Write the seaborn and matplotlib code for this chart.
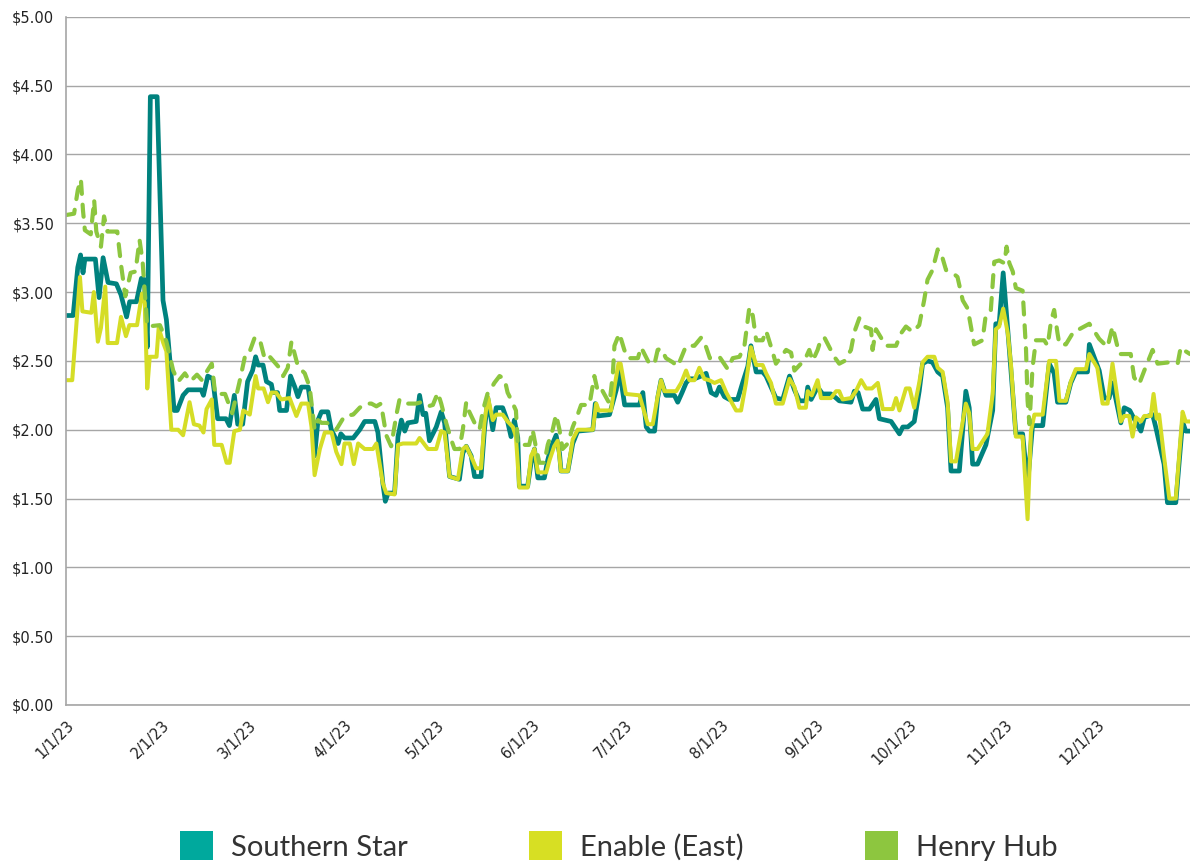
import numpy as np
import pandas as pd
import matplotlib
matplotlib.use("Agg")
import matplotlib.pyplot as plt
import seaborn as sns
from matplotlib.patches import Patch
from matplotlib.ticker import FuncFormatter

# Daily prices, as (days since 1/1/23, $/MMBtu)
ss_days = [0, 2.3, 3.8, 4.7, 5.5, 6.1, 8.2, 9.5, 10.7, 12.0, 13.6, 16.3, 17.8, 19.6, 20.6, 22.8,
           24.4, 25.4, 26.3, 27.3, 29.5, 31.4, 32.5, 34.0, 35.0, 36.0, 37.9, 39.5, 43.8, 44.5,
           45.9, 47.5, 49.1, 51.8, 52.9, 54.5, 55.6, 57.2, 58.8, 60.4, 61.4, 62.2, 63.8, 64.9,
           66.5, 67.0, 68.5, 69.2, 71.4, 72.7, 74.1, 75.1, 76.2, 78.4, 79.5, 80.5, 81.6, 82.7,
           84.8, 85.9, 88.1, 89.0, 90.2, 93.0, 95.1, 96.7, 100.0, 101.0, 102.6, 103.4, 104.3,
           106.4, 107.5, 108.6, 109.7, 110.7, 113.4, 114.5, 115.6, 116.5, 117.7, 119.9, 121.5,
           122.6, 124.2, 127.4, 128.5, 129.6, 131.2, 132.3, 134.4, 135.5, 136.6, 138.2, 139.3,
           141.4, 143.0, 144.1, 145.2, 146.3, 146.8, 149.5, 150.6, 151.7, 152.8, 154.9, 156.0,
           157.2, 158.7, 159.8, 160.3, 162.5, 164.1, 165.7, 170.6, 171.4, 172.2, 176.0, 178.2,
           179.2, 180.9, 185.7, 186.8, 187.9, 188.9, 190.6, 191.6, 192.7, 194.3, 197.0, 198.1,
           199.5, 200.8, 201.9, 203.5, 205.7, 207.3, 208.9, 210.5, 211.6, 213.2, 214.8, 217.5,
           219.1, 220.8, 221.8, 223.5, 225.6, 226.7, 228.3, 229.9, 232.1, 234.3, 235.9, 237.5,
           239.6, 240.2, 241.3, 243.4, 245.0, 247.7, 249.4, 250.4, 254.2, 255.3, 256.5, 258.0,
           260.2, 262.3, 263.4, 267.2, 269.9, 271.0, 272.6, 274.7, 276.3, 277.4, 279.0, 280.6,
           282.3, 283.9, 285.5, 286.6, 289.3, 291.4, 292.5, 293.6, 295.2, 297.9, 300.1, 301.1,
           302.2, 303.5, 305.5, 307.6, 309.8, 311.4, 313.0, 316.3, 318.4, 320.0, 321.1, 323.8,
           325.4, 327.0, 330.8, 331.4, 334.6, 336.2, 337.8, 338.9, 341.6, 342.7, 344.5, 345.9,
           348.1, 349.2, 351.9, 352.9, 355.6, 356.7, 359.4, 361.6, 362.6, 364]
ss_vals = [2.83, 2.83, 3.18, 3.27, 3.14, 3.24, 3.24, 3.24, 2.96, 3.25, 3.07, 3.06, 2.98, 2.82, 2.93, 2.93,
           3.10, 3.09, 2.60, 4.42, 4.42, 2.94, 2.80, 2.41, 2.14, 2.14, 2.25, 2.29, 2.29, 2.25,
           2.39, 2.37, 2.08, 2.08, 2.03, 2.25, 2.04, 2.04, 2.35, 2.43, 2.53, 2.47, 2.47, 2.35,
           2.33, 2.27, 2.27, 2.14, 2.14, 2.39, 2.31, 2.24, 2.31, 2.31, 2.14, 1.81, 2.07, 2.13,
           2.13, 2.00, 1.90, 1.97, 1.94, 1.94, 2.00, 2.06, 2.06, 1.98, 1.61, 1.48, 1.54,
           1.54, 1.95, 2.07, 1.99, 2.05, 2.06, 2.25, 2.11, 2.12, 1.92, 2.02, 2.13,
           2.05, 1.66, 1.64, 1.83, 1.88, 1.81, 1.66, 1.66, 2.00, 2.23, 2.00, 2.16,
           2.16, 2.06, 1.95, 2.07, 1.94, 1.59, 1.59, 1.76, 1.86, 1.65, 1.65, 1.78,
           1.88, 1.96, 1.83, 1.70, 1.70, 1.90, 1.99, 2.00, 2.19, 2.10, 2.11, 2.29,
           2.44, 2.18, 2.18, 2.27, 2.02, 1.99, 1.99, 2.23, 2.36, 2.25, 2.25, 2.20,
           2.27, 2.34, 2.37, 2.37, 2.39, 2.41, 2.27, 2.25, 2.31, 2.24, 2.22, 2.22,
           2.34, 2.46, 2.61, 2.42, 2.42, 2.39, 2.31, 2.23, 2.22, 2.39, 2.29, 2.21,
           2.21, 2.31, 2.22, 2.31, 2.26, 2.26, 2.23, 2.21, 2.20, 2.28, 2.27, 2.15,
           2.15, 2.22, 2.08, 2.06, 1.97, 2.02, 2.02, 2.06, 2.28, 2.48, 2.50, 2.49,
           2.42, 2.39, 2.16, 1.70, 1.70, 2.28, 2.16, 1.75, 1.75, 1.89, 2.14, 2.77,
           2.77, 3.14, 2.58, 1.97, 1.97, 1.60, 2.03, 2.03, 2.48, 2.41, 2.20, 2.20,
           2.34, 2.42, 2.42, 2.62, 2.43, 2.23, 2.23, 2.34, 2.05, 2.16, 2.14, 2.08,
           1.99, 2.09, 2.11, 2.02, 1.75, 1.47, 1.47, 2.06, 1.99, 1.99]

en_days = [0, 2.0, 4.5, 5.3, 8.2, 9.0, 10.3, 11.3, 12.7, 13.5, 16.5, 17.8, 19.4, 20.5, 23.0, 24.6,
           25.5, 26.3, 27.1, 29.3, 30.0, 31.5, 32.5, 34.1, 36.3, 37.9, 40.0, 41.4, 43.2, 44.5,
           45.5, 47.2, 48.0, 50.4, 52.0, 53.0, 54.5, 56.3, 57.4, 59.5, 61.4, 62.2, 64.0, 65.4,
           66.5, 68.0, 69.7, 72.4, 74.6, 76.2, 78.4, 79.5, 80.5, 82.2, 83.8, 86.0, 87.5, 89.2,
           90.2, 91.9, 93.2, 94.6, 96.7, 99.4, 100.5, 102.6, 103.7, 106.4, 107.5, 109.1, 113.4,
           114.5, 117.2, 119.9, 121.5, 122.6, 124.2, 126.9, 128.5, 129.6, 131.7, 132.8, 134.4,
           135.5, 136.6, 138.2, 139.3, 141.4, 143.0, 144.7, 145.7, 146.8, 149.5, 150.6, 151.7,
           152.8, 155.5, 156.6, 158.1, 159.2, 160.3, 162.5, 164.1, 165.7, 170.6, 171.7, 172.5,
           176.5, 177.6, 178.9, 179.6, 181.3, 185.7, 188.4, 190.0, 191.6, 192.7, 193.8, 197.6,
           199.2, 200.8, 201.9, 203.5, 205.1, 206.7, 208.3, 210.0, 212.1, 213.8, 217.0, 218.6,
           220.2, 221.8, 223.5, 225.6, 226.7, 228.3, 229.9, 232.1, 234.3, 235.9, 237.5, 239.6,
           240.2, 241.5, 243.4, 244.5, 247.7, 249.4, 250.4, 251.5, 254.2, 255.8, 257.5, 259.1,
           261.0, 262.9, 264.5, 267.7, 268.8, 269.9, 272.0, 273.2, 274.7, 276.3, 277.4, 279.0,
           281.2, 282.3, 283.9, 285.5, 286.6, 288.2, 291.4, 292.5, 293.6, 295.2, 298.4, 300.1,
           301.1, 302.2, 303.5, 305.0, 306.0, 307.6, 309.8, 311.4, 312.5, 313.6, 316.3, 318.4,
           320.6, 321.7, 323.8, 325.4, 327.0, 330.3, 331.4, 334.0, 335.7, 337.3, 338.9, 341.6,
           342.7, 344.3, 345.4, 346.5, 348.1, 349.2, 351.3, 352.2, 353.2, 354.0, 355.5, 357.3,
           359.4, 361.6, 362.6, 364]
en_vals = [2.36, 2.36, 3.11, 2.86, 2.85, 3.00, 2.64, 2.74, 3.04, 2.63, 2.63, 2.82, 2.68, 2.76, 2.76, 2.99,
           2.92, 2.30, 2.53, 2.53, 2.74, 2.63, 2.57, 2.00, 2.00, 1.96, 2.20, 2.04, 2.03, 1.98,
           2.15, 2.22, 1.89, 1.89, 1.76, 1.76, 1.99, 2.00, 2.14, 2.11, 2.39, 2.30, 2.30, 2.20,
           2.27, 2.27, 2.22, 2.23, 2.10, 2.19, 2.19, 2.02, 1.67, 1.86, 1.98, 1.98, 1.84, 1.75,
           1.90, 1.90, 1.75, 1.90, 1.86, 1.86, 1.90, 1.61, 1.54, 1.53, 1.89, 1.90, 1.90,
           1.94, 1.86, 1.86, 1.99, 1.98, 1.66, 1.64, 1.86, 1.88, 1.78, 1.72, 1.72,
           2.05, 2.24, 2.07, 2.11, 2.11, 2.06, 2.02, 1.95, 1.58, 1.58, 1.81, 1.86,
           1.69, 1.69, 1.78, 1.88, 1.92, 1.70, 1.70, 1.93, 2.00, 2.00, 2.19, 2.14,
           2.14, 2.31, 2.48, 2.48, 2.26, 2.25, 2.04, 2.04, 2.24, 2.36, 2.28, 2.28,
           2.34, 2.43, 2.36, 2.36, 2.45, 2.37, 2.36, 2.34, 2.36, 2.27, 2.14, 2.14,
           2.34, 2.60, 2.47, 2.47, 2.41, 2.34, 2.19, 2.19, 2.37, 2.31, 2.16, 2.16,
           2.28, 2.25, 2.36, 2.23, 2.23, 2.28, 2.28, 2.22, 2.23, 2.28, 2.36, 2.30,
           2.30, 2.34, 2.15, 2.15, 2.23, 2.14, 2.30, 2.30, 2.16, 2.34, 2.49, 2.53,
           2.53, 2.45, 2.42, 2.20, 1.77, 1.77, 2.19, 2.12, 1.86, 1.86, 1.97, 2.26,
           2.73, 2.75, 2.88, 2.70, 2.48, 1.95, 1.95, 1.35, 1.99, 2.11, 2.11, 2.50,
           2.50, 2.21, 2.21, 2.35, 2.44, 2.44, 2.55, 2.45, 2.19, 2.19, 2.48, 2.06,
           2.10, 2.10, 1.95, 2.09, 2.06, 2.10, 2.10, 2.26, 2.08, 2.11, 1.82, 1.50,
           1.50, 2.13, 2.06, 2.06]

hh_days = [0, 2.6, 3.8, 4.8, 5.5, 6.1, 8.0, 9.1, 9.8, 11.3, 12.3, 13.4, 16.6, 17.8, 19.2, 20.9,
           22.5, 23.8, 24.8, 26.3, 30.4, 31.5, 32.5, 34.7, 36.3, 38.5, 40.2, 42.4, 44.0, 45.5,
           47.2, 48.3, 51.5, 53.8, 56.1, 58.2, 59.5, 61.1, 62.7, 64.4, 66.0, 68.7, 70.3, 71.8,
           73.0, 75.1, 77.3, 78.9, 80.5, 81.6, 82.7, 84.5, 87.5, 90.2, 93.0, 95.1, 96.7, 98.9,
           100.5, 102.0, 103.7, 105.3, 107.0, 108.0, 109.7, 113.4, 115.0, 117.2, 118.8, 120.4,
           121.5, 123.1, 124.7, 125.8, 127.4, 128.5, 129.6, 130.6, 132.3, 133.9, 135.0, 136.6,
           137.7, 138.7, 140.4, 142.0, 143.0, 144.1, 145.7, 146.3, 150.0, 151.1, 152.2, 153.3,
           154.9, 156.0, 157.6, 158.7, 159.8, 160.8, 162.5, 164.1, 165.7, 166.8, 169.5, 171.1,
           172.2, 173.3, 176.0, 177.1, 177.6, 179.2, 180.8, 181.9, 185.2, 186.2, 188.9, 190.6,
           191.6, 192.7, 194.3, 196.5, 198.1, 200.8, 203.5, 205.7, 207.3, 208.5, 211.6, 214.3,
           215.9, 218.1, 219.7, 221.3, 222.4, 223.5, 225.6, 226.7, 228.9, 229.9, 233.2, 234.8,
           235.9, 238.0, 239.7, 240.7, 241.8, 243.4, 244.5, 245.6, 248.8, 250.4, 252.1, 254.2,
           255.3, 256.9, 258.5, 260.7, 261.2, 262.3, 265.5, 268.8, 270.4, 272.0, 274.2, 276.3,
           277.9, 279.0, 280.6, 282.3, 283.3, 285.0, 287.1, 288.7, 290.4, 292.0, 294.1, 296.8,
           297.9, 299.5, 300.6, 302.2, 303.9, 304.6, 305.5, 306.6, 307.6, 309.8, 310.9, 311.4,
           312.0, 313.0, 314.1, 316.8, 317.9, 319.0, 320.0, 321.1, 321.7, 323.8, 326.5, 328.1,
           331.4, 332.9, 334.6, 337.3, 338.9, 341.1, 344.8, 345.9, 347.5, 349.2, 351.9, 353.5,
           357.3, 360.0, 361.0, 362.6, 364]
hh_vals = [3.56, 3.57, 3.74, 3.82, 3.59, 3.45, 3.42, 3.67, 3.44, 3.33, 3.55, 3.44, 3.44, 3.20, 2.97, 3.14,
           3.15, 3.38, 3.22, 2.75, 2.76, 2.70, 2.64, 2.43, 2.35, 2.41, 2.35, 2.40, 2.36, 2.42,
           2.48, 2.26, 2.26, 2.12, 2.34, 2.56, 2.57, 2.67, 2.66, 2.51, 2.53, 2.46, 2.39, 2.45,
           2.64, 2.46, 2.41, 2.31, 2.00, 2.07, 2.05, 2.05, 2.00, 2.10, 2.11, 2.16, 2.19, 2.19,
           2.17, 2.19, 1.96, 1.88, 2.11, 2.22, 2.19, 2.19, 2.20, 2.17, 2.18, 2.27,
           2.19, 2.05, 1.93, 1.86, 1.86, 2.00, 2.20, 2.13, 2.05, 2.00, 2.14, 2.27,
           2.30, 2.34, 2.39, 2.37, 2.27, 2.22, 2.14, 1.89, 1.89, 2.00, 1.87, 1.76,
           1.76, 1.89, 2.00, 2.11, 2.00, 1.86, 1.90, 2.02, 2.11, 2.18, 2.18, 2.39,
           2.28, 2.30, 2.19, 2.41, 2.61, 2.70, 2.58, 2.52, 2.52, 2.60, 2.48, 2.48,
           2.58, 2.59, 2.52, 2.49, 2.46, 2.61, 2.61, 2.67, 2.60, 2.52, 2.53, 2.44,
           2.52, 2.53, 2.61, 2.89, 2.83, 2.65, 2.65, 2.72, 2.56, 2.48, 2.58, 2.56,
           2.43, 2.48, 2.53, 2.58, 2.50, 2.58, 2.66, 2.67, 2.53, 2.48, 2.50, 2.58,
           2.71, 2.81, 2.75, 2.73, 2.58, 2.73, 2.61, 2.61, 2.70, 2.75, 2.71, 2.76,
           2.94, 3.09, 3.16, 3.31, 3.29, 3.16, 3.14, 3.11, 2.94, 2.88, 2.62, 2.65,
           2.84, 2.87, 3.22, 3.23, 3.21, 3.33, 3.21, 3.15, 3.03, 3.01, 2.58, 2.21,
           2.04, 2.45, 2.65, 2.65, 2.61, 2.79, 2.87, 2.70, 2.62, 2.62, 2.72, 2.73,
           2.77, 2.72, 2.66, 2.60, 2.75, 2.55, 2.55, 2.38, 2.33, 2.43, 2.58, 2.48,
           2.49, 2.48, 2.60, 2.57, 2.55]

series_names = ["Southern Star", "Enable (East)", "Henry Hub"]
line_colors = ["#00827E", "#D5DD26", "#8CC63F"]
legend_colors = ["#00A99D", "#D7DF23", "#8DC63F"]

month_ticks = pd.date_range("2023-01-01", "2023-12-01", freq="MS")
month_labels = ["1/1/23", "2/1/23", "3/1/23", "4/1/23", "5/1/23", "6/1/23",
                "7/1/23", "8/1/23", "9/1/23", "10/1/23", "11/1/23", "12/1/23"]
y_ticks = np.arange(0, 5.01, 0.5)

start = pd.Timestamp("2023-01-01")


def to_frame(days, vals, name):
    return pd.DataFrame({
        "date": start + pd.to_timedelta(np.array(days), unit="D"),
        "price": vals,
        "series": name,
    })


frames = [to_frame(ss_days, ss_vals, series_names[0]),
          to_frame(en_days, en_vals, series_names[1]),
          to_frame(hh_days, hh_vals, series_names[2])]

sns.set_theme(style="white")
plt.rcParams["font.family"] = ["DejaVu Sans"]

fig = plt.figure(figsize=(11.9, 8.65), dpi=100)
ax = fig.add_axes([0.0555, 0.185, 0.9445, 0.7955])

ax.grid(axis="y", color="#A6A6A6", linewidth=1.0)
ax.set_axisbelow(True)

sns.lineplot(data=frames[0], x="date", y="price", ax=ax, color=line_colors[0],
             linewidth=3.4, estimator=None, legend=False)
sns.lineplot(data=frames[1], x="date", y="price", ax=ax, color=line_colors[1],
             linewidth=2.9, estimator=None, legend=False)
sns.lineplot(data=frames[2], x="date", y="price", ax=ax, color=line_colors[2],
             linewidth=3.0, estimator=None, legend=False,
             dashes=(2.9, 2.6), dash_capstyle="round")

ax.set_xlim(pd.Timestamp("2023-01-01"), pd.Timestamp("2023-12-31"))
ax.set_ylim(0, 5)
ax.set_yticks(y_ticks)
ax.yaxis.set_major_formatter(FuncFormatter(lambda v, _: f"${v:.2f}"))
ax.set_xticks(month_ticks)
ax.set_xticklabels(month_labels, rotation=45, ha="right", rotation_mode="anchor")
ax.set_xlabel("")
ax.set_ylabel("")

ax.tick_params(axis="both", labelsize=10.5, labelcolor="#222222", colors="#A6A6A6",
               length=5, width=1.0, direction="out")
ax.tick_params(axis="x", pad=4)
for lab in ax.get_xticklabels() + ax.get_yticklabels():
    lab.set_color("#222222")

for side in ["top", "right"]:
    ax.spines[side].set_visible(False)
for side in ["left", "bottom"]:
    ax.spines[side].set_color("#A6A6A6")
    ax.spines[side].set_linewidth(1.2)

handles = [Patch(facecolor=c, edgecolor="none", label=n) for c, n in zip(legend_colors, series_names)]
leg = fig.legend(handles=handles, loc="center", bbox_to_anchor=(0.520, 0.022), ncol=3,
                 frameon=False, handlelength=1.13, handleheight=1.13,
                 handletextpad=0.62, columnspacing=4.15,
                 prop={"family": "Lato", "weight": "normal", "size": 21})
for t in leg.get_texts():
    t.set_color("#333333")

fig.savefig("out.png", dpi=100)
